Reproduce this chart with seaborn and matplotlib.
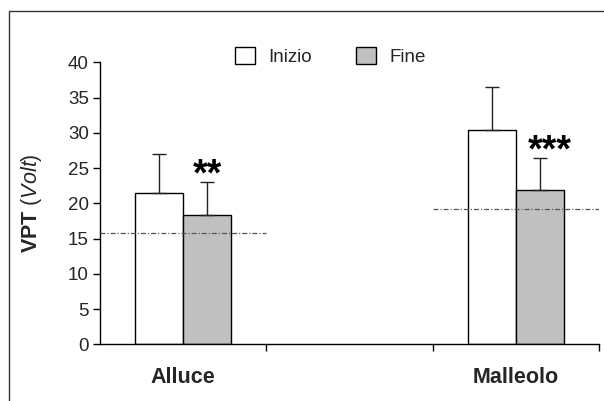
import pandas as pd
import matplotlib
matplotlib.use("Agg")
import matplotlib.pyplot as plt
from matplotlib.patches import Rectangle, Patch
import seaborn as sns

# data
sites = ["Alluce", "", "Malleolo"]
phases = ["Inizio", "Fine"]
inizio_mean = [21.5, None, 30.4]
fine_mean = [18.3, None, 21.9]
inizio_sd = [5.5, None, 6.1]
fine_sd = [4.7, None, 4.5]
threshold = [15.8, None, 19.2]   # reference lines per site
stars = ["**", "", "***"]

sns.set_style("white")
plt.rcParams["font.family"] = ["Liberation Sans", "DejaVu Sans"]
plt.rcParams["mathtext.fontset"] = "custom"
plt.rcParams["mathtext.rm"] = "Liberation Sans"
plt.rcParams["mathtext.it"] = "Liberation Sans:italic"
plt.rcParams["mathtext.bf"] = "Liberation Sans:bold"

df = pd.DataFrame({
    "site": sites * 2,
    "phase": ["Inizio"] * 3 + ["Fine"] * 3,
    "vpt": inizio_mean + fine_mean,
})

fig = plt.figure(figsize=(6.04, 4.01), dpi=100)
ax = fig.add_axes([100 / 604, 1 - 344.3 / 401, 499 / 604, 282 / 401])

sns.barplot(data=df, x="site", y="vpt", hue="phase", order=sites, hue_order=phases,
            palette=["white", "#c0c0c0"], width=0.58, edgecolor="black", linewidth=1,
            errorbar=None, legend=False, ax=ax)

# upper-only error bars (and stars on Fine), centred on the drawn bars
for k, (cont, sds) in enumerate(zip(ax.containers, [inizio_sd, fine_sd])):
    for bar in cont.patches:
        h = bar.get_height()
        xc = bar.get_x() + bar.get_width() / 2
        i = int(round(xc))
        sd = sds[i]
        if sd is None or h != h:
            continue
        ax.errorbar(xc, h, yerr=[[0], [sd]], fmt="none", ecolor="#222222",
                    elinewidth=1, capsize=5, capthick=1, zorder=1)
        if k == 1 and stars[i]:
            dx = 0.0 if len(stars[i]) == 2 else 0.06
            ax.text(xc + dx, h + sd - 0.45, stars[i], ha="center", va="baseline",
                    fontsize=27, fontweight="bold", color="black")

# dash-dot threshold lines, one per site
for i, t in enumerate(threshold):
    if t is None:
        continue
    ax.plot([i - 0.5, i + 0.5], [t, t], color="#555555", lw=0.9,
            linestyle=(0, (4, 1.6, 0.9, 1.6)), zorder=3)

ax.set_ylim(0, 40)
ax.set_xlim(-0.5, 2.5)
ax.set_yticks(range(0, 41, 5))
ax.set_xticks([0.5, 1.5, 2.5])
ax.set_xticklabels([])
ax.set_xticks([0, 2], ["Alluce", "Malleolo"], minor=True)
ax.tick_params(axis="x", which="major", direction="out", length=5, width=1, color="black", bottom=True)
ax.tick_params(axis="x", which="minor", length=0, pad=16, labelsize=15.5)
ax.tick_params(axis="y", direction="out", length=5, width=1, color="black", left=True, labelsize=13.5, pad=3)
for lab in ax.get_xticklabels(minor=True):
    lab.set_fontweight("bold")
for side in ["top", "right"]:
    ax.spines[side].set_visible(False)
for side in ["left", "bottom"]:
    ax.spines[side].set_color("black")
    ax.spines[side].set_linewidth(1)

ax.set_xlabel("")
ax.set_ylabel(r"$\mathbf{VPT}$ ($\mathit{Volt}$)", fontsize=15.5, labelpad=17)

handles = [Patch(facecolor="white", edgecolor="black", lw=1),
           Patch(facecolor="#c0c0c0", edgecolor="black", lw=1)]
fig.legend(handles, phases, ncol=2, frameon=False, loc="upper left",
           bbox_to_anchor=(235 / 604, 1 - 47 / 401), fontsize=13.5,
           handlelength=1.05, handleheight=1.0, handletextpad=0.7,
           columnspacing=2.4, borderpad=0, borderaxespad=0)

# outer frame, cut by the right and bottom edges
fig.patches.append(Rectangle((8.5 / 604, -0.1), 1.2, 1 - 10.5 / 401 + 0.1,
                             transform=fig.transFigure, fill=False,
                             edgecolor="#333333", lw=1))

fig.savefig("out.png", dpi=100)
